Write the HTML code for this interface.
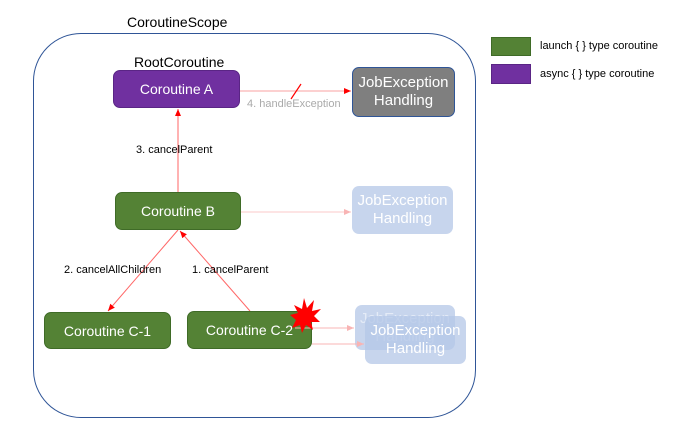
<!DOCTYPE html><html><head><style>
body{margin:0;width:700px;height:424px;background:#fff;font-family:"Liberation Sans",sans-serif;overflow:hidden;position:relative}
.b{position:absolute;border-radius:7px;color:#fff;display:flex;align-items:center;justify-content:center;text-align:center;font-size:14px;line-height:18px;box-sizing:border-box}
.g{background:#548235;border:1px solid #3f6b27}.p{background:#7030a0;border:1px solid #5a2585}
.l{background:rgba(180,199,231,.75)}
.t{position:absolute;font-size:11px;white-space:nowrap}
</style></head><body>
<div style="position:absolute;left:33px;top:33px;width:443px;height:385px;border:1px solid #2f5597;border-radius:48px;box-sizing:border-box"></div>
<div class="t" style="left:127px;top:14px;font-size:14px">CoroutineScope</div>
<div class="t" style="left:134px;top:54px;font-size:14px">RootCoroutine</div>
<svg width="700" height="424" style="position:absolute;left:0;top:0">
<defs><marker id="r" markerWidth="8" markerHeight="8" refX="7" refY="3" orient="auto"><path d="M0,0L7,3L0,6z" fill="#f00"/></marker>
<marker id="k" markerWidth="8" markerHeight="8" refX="7" refY="3" orient="auto"><path d="M0,0L7,3L0,6z" fill="#f8b4b4"/></marker></defs>
<line x1="240" y1="91" x2="351" y2="91" stroke="#f8a0a0" marker-end="url(#r)"/>
<line x1="291" y1="99" x2="301" y2="84" stroke="#f00" stroke-width="1.2"/>
<line x1="178" y1="192" x2="178" y2="109" stroke="#f66" marker-end="url(#r)"/>
<line x1="241" y1="212" x2="351" y2="212" stroke="#fbcaca" marker-end="url(#k)"/>
<line x1="178" y1="230" x2="108" y2="311" stroke="#f66" marker-end="url(#r)"/>
<line x1="250" y1="311" x2="180" y2="231" stroke="#f66" marker-end="url(#r)"/>
</svg>
<div class="b p" style="left:113px;top:70px;width:127px;height:38px">Coroutine A</div>
<div class="b" style="left:352px;top:67px;width:103px;height:50px;background:#7f7f7f;border:1px solid #2f5597;font-size:15px">JobException<br>Handling</div>
<div class="b g" style="left:115px;top:192px;width:126px;height:38px">Coroutine B</div>
<div class="b l" style="left:352px;top:186px;width:101px;height:48px;font-size:15px">JobException<br>Handling</div>
<div class="b g" style="left:44px;top:312px;width:127px;height:37px">Coroutine C-1</div>
<div class="b g" style="left:187px;top:311px;width:125px;height:38px">Coroutine C-2</div>
<div class="b l" style="left:355px;top:305px;width:100px;height:45px;font-size:15px;color:#e4ebf7">JobException<br>Handling</div>
<div class="b l" style="left:365px;top:316px;width:101px;height:48px;font-size:15px">JobException<br>Handling</div>
<svg width="700" height="424" style="position:absolute;left:0;top:0">
<line x1="295" y1="328" x2="354" y2="328" stroke="#f8b4b4" marker-end="url(#k)"/>
<line x1="312" y1="344" x2="364" y2="344" stroke="#f8b4b4" marker-end="url(#k)"/>
<polygon points="304,298 307,308 314,300 312,311 321,309 314,316 320,322 311,322 313,330 306,325 302,333 300,325 292,328 296,320 290,315 298,313 294,305 302,309" fill="#f00"/>
</svg>
<div class="t" style="left:247px;top:98px;color:#aaa">4. handleException</div>
<div class="t" style="left:136px;top:144px">3. cancelParent</div>
<div class="t" style="left:64px;top:264px">2. cancelAllChildren</div>
<div class="t" style="left:192px;top:264px">1. cancelParent</div>
<div style="position:absolute;left:491px;top:37px;width:40px;height:19px;background:#548235;border:1px solid #3f6b27;box-sizing:border-box"></div>
<div style="position:absolute;left:491px;top:64px;width:40px;height:20px;background:#7030a0;border:1px solid #5a2585;box-sizing:border-box"></div>
<div class="t" style="left:540px;top:40px">launch { } type coroutine</div>
<div class="t" style="left:540px;top:68px">async { } type coroutine</div>
</body></html>
